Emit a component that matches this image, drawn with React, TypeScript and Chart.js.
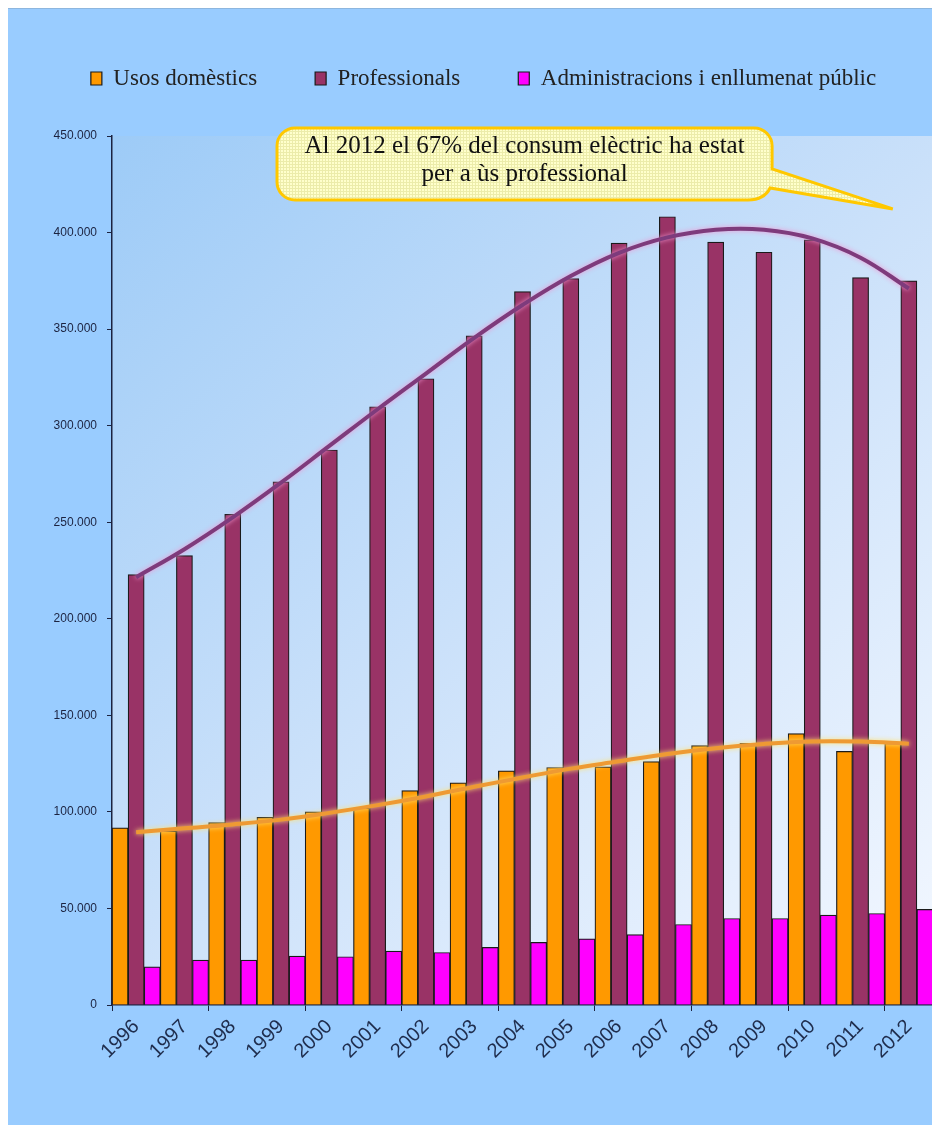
import React, { useEffect, useRef } from "react";
import { Chart, registerables } from "chart.js";

Chart.register(...registerables);

const years = ["1996", "1997", "1998", "1999", "2000", "2001", "2002", "2003", "2004", "2005", "2006", "2007", "2008", "2009", "2010", "2011", "2012"];

const usosDomestics = [91700, 90000, 94500, 97200, 100000, 102000, 111000, 115000, 121200, 123000, 123300, 126000, 134300, 135500, 140500, 131300, 135500];
const professionals = [222900, 232700, 254100, 270900, 287400, 309800, 324300, 346500, 369400, 376200, 394500, 408200, 395100, 389800, 396200, 376700, 375000];
const administracions = [19800, 23300, 23300, 25300, 25000, 27900, 27200, 29800, 32400, 34300, 36500, 41700, 44800, 44800, 46500, 47400, 49500];

const trendProfessionals = [221500, 236000, 252500, 270500, 289500, 308500, 327000, 345500, 362500, 377500, 389500, 397500, 401500, 401500, 397000, 387000, 371000];
const trendDomestics = [89500, 91500, 93500, 96000, 99500, 103500, 108000, 113000, 117800, 122400, 126200, 130000, 133000, 135200, 136500, 136400, 135300];

const seriesNames = ["Usos domèstics", "Professionals", "Administracions i enllumenat públic"];
const calloutLines = ["Al 2012 el 67% del consum elèctric ha estat", "per a ùs professional"];

const yMax = 450000;
const yStep = 50000;

const fmt = (v: number) => String(v).replace(/\B(?=(\d{3})+(?!\d))/g, ".");

const bgPlugin = {
  id: "plotBg",
  beforeDraw(chart: any) {
    const { ctx, chartArea: a } = chart;
    const g = ctx.createLinearGradient(a.left, a.top, a.right, a.bottom);
    g.addColorStop(0, "#9DCBF7");
    g.addColorStop(0.5, "#CBE1FA");
    g.addColorStop(1, "#F4F8FF");
    ctx.save();
    ctx.fillStyle = g;
    ctx.fillRect(a.left, a.top, a.right - a.left + 2, a.bottom - a.top);
    ctx.restore();
  },
};

const legendShiftPlugin = {
  id: "legendShift",
  afterLayout(chart: any) {
    const lg = chart.legend;
    if (lg) {
      lg.left += 13;
      lg.right += 13;
    }
  },
};

const glowPlugin = {
  id: "glow",
  beforeDatasetDraw(chart: any, args: any) {
    const ds = chart.data.datasets[args.index];
    if (ds.glow) {
      chart.ctx.save();
      chart.ctx.shadowColor = ds.glow;
      chart.ctx.shadowBlur = 5;
    }
  },
  afterDatasetDraw(chart: any, args: any) {
    const ds = chart.data.datasets[args.index];
    if (ds.glow) chart.ctx.restore();
  },
};

const calloutPlugin = {
  id: "callout",
  afterDraw(chart: any) {
    const { ctx, chartArea: a } = chart;
    const W = a.right - a.left;
    const H = a.bottom - a.top;
    const x0 = a.left + 0.201 * W;
    const x1 = a.left + 0.804 * W;
    const y0 = a.top - 0.0092 * H;
    const y1 = a.top + 0.0736 * H;
    const tTop = a.top + 0.0379 * H;
    const tBot = a.top + 0.0598 * H;
    const tipX = a.left + 0.951 * W;
    const tipY = a.top + 0.0839 * H;
    const r = 18;

    const pc = document.createElement("canvas");
    pc.width = 3;
    pc.height = 3;
    const pctx = pc.getContext("2d")!;
    pctx.fillStyle = "#FFFFCC";
    pctx.fillRect(0, 0, 3, 3);
    pctx.fillStyle = "#ECECAA";
    pctx.fillRect(0, 2, 3, 1);
    pctx.fillRect(2, 0, 1, 3);
    const pat = ctx.createPattern(pc, "repeat");

    ctx.save();
    ctx.beginPath();
    ctx.moveTo(x0 + r, y0);
    ctx.lineTo(x1 - r, y0);
    ctx.arcTo(x1, y0, x1, y0 + r, r);
    ctx.lineTo(x1, tTop);
    ctx.lineTo(tipX, tipY);
    ctx.lineTo(x1 - 2, tBot);
    ctx.quadraticCurveTo(x1 - 8, y1, x1 - r - 6, y1);
    ctx.lineTo(x0 + r, y1);
    ctx.arcTo(x0, y1, x0, y1 - r, r);
    ctx.lineTo(x0, y0 + r);
    ctx.arcTo(x0, y0, x0 + r, y0, r);
    ctx.closePath();
    ctx.fillStyle = pat || "#FFFFCC";
    ctx.fill();
    ctx.lineWidth = 3;
    ctx.strokeStyle = "#FFC800";
    ctx.stroke();

    ctx.fillStyle = "#111111";
    ctx.font = '25px "Liberation Serif", serif';
    ctx.textAlign = "center";
    ctx.textBaseline = "alphabetic";
    const cx = (x0 + x1) / 2;
    ctx.fillText(calloutLines[0], cx, a.top + 0.0195 * H);
    ctx.fillText(calloutLines[1], cx, a.top + 0.052 * H);
    ctx.restore();
  },
};

export default function App() {
  const ref = useRef<HTMLCanvasElement | null>(null);

  useEffect(() => {
    if (!ref.current) return;
    const barBorder = "#1A1A1A";
    const chart = new Chart(ref.current, {
      type: "bar",
      data: {
        labels: years,
        datasets: [
          {
            type: "bar",
            label: seriesNames[0],
            data: usosDomestics,
            backgroundColor: "#FF9900",
            borderColor: barBorder,
            borderWidth: 1.2,
            order: 2,
          },
          {
            type: "bar",
            label: seriesNames[1],
            data: professionals,
            backgroundColor: "#993366",
            borderColor: barBorder,
            borderWidth: 1.2,
            order: 2,
          },
          {
            type: "bar",
            label: seriesNames[2],
            data: administracions,
            backgroundColor: "#FF00FF",
            borderColor: barBorder,
            borderWidth: 1.2,
            order: 2,
          },
          {
            type: "line",
            label: "trend professionals",
            data: trendProfessionals,
            borderColor: "#7E3B7C",
            borderWidth: 4,
            pointRadius: 0,
            tension: 0.4,
            fill: false,
            order: 0,
            glow: "rgba(240,150,210,0.95)",
          } as any,
          {
            type: "line",
            label: "trend domestics",
            data: trendDomestics,
            borderColor: "#EE9A33",
            borderWidth: 4,
            pointRadius: 0,
            tension: 0.4,
            fill: false,
            order: 0,
            glow: "rgba(255,225,110,0.95)",
          } as any,
        ],
      },
      options: {
        responsive: true,
        maintainAspectRatio: false,
        animation: false,
        layout: { padding: { top: 0, right: 7, bottom: 0, left: 0 } },
        datasets: { bar: { categoryPercentage: 1, barPercentage: 1 } } as any,
        plugins: {
          legend: {
            display: true,
            position: "top",
            weight: 3000,
            labels: {
              boxWidth: 11,
              boxHeight: 13,
              padding: 58,
              color: "#222222",
              font: { family: '"Liberation Serif", serif', size: 23 },
              filter: (item: any) => item.datasetIndex < 3,
            },
          } as any,
          subtitle: {
            display: true,
            text: "",
            position: "top",
            weight: 500,
            font: { size: 10 },
            padding: { top: 0, bottom: 24 },
          } as any,
          tooltip: { enabled: false },
        },
        scales: {
          x: {
            offset: true,
            grid: {
              offset: true,
              drawOnChartArea: false,
              drawTicks: true,
              tickLength: 6,
              color: (c: any) => (c.index % 2 === 0 ? "#1C2340" : "rgba(0,0,0,0)"),
            },
            border: { display: true, color: "#1C2340", width: 1.5 },
            ticks: {
              autoSkip: false,
              minRotation: 45,
              maxRotation: 45,
              padding: 4,
              color: "#1F2D4D",
              font: { family: '"Liberation Sans", Arial, sans-serif', size: 20 },
            },
            afterFit: (s: any) => {
              s.height = 120;
            },
          },
          y: {
            min: 0,
            max: yMax,
            grid: {
              drawOnChartArea: false,
              drawTicks: true,
              tickLength: 5,
              color: "#1C2340",
            },
            border: { display: true, color: "#1C2340", width: 1.5 },
            ticks: {
              stepSize: yStep,
              padding: 10,
              color: "#1C2340",
              font: { family: '"Liberation Sans", Arial, sans-serif', size: 12 },
              callback: (v: any) => fmt(Number(v)),
            },
            afterFit: (s: any) => {
              s.width = 104;
            },
          },
        },
      },
      plugins: [bgPlugin, legendShiftPlugin, glowPlugin, calloutPlugin],
    });
    return () => chart.destroy();
  }, []);

  return (
    <div
      style={{
        position: "relative",
        width: 932,
        height: 1117,
        background: "#99CCFF",
        borderTop: "1px solid #8DB6DE",
        boxSizing: "border-box",
      }}
    >
      <canvas ref={ref} />
    </div>
  );
}
